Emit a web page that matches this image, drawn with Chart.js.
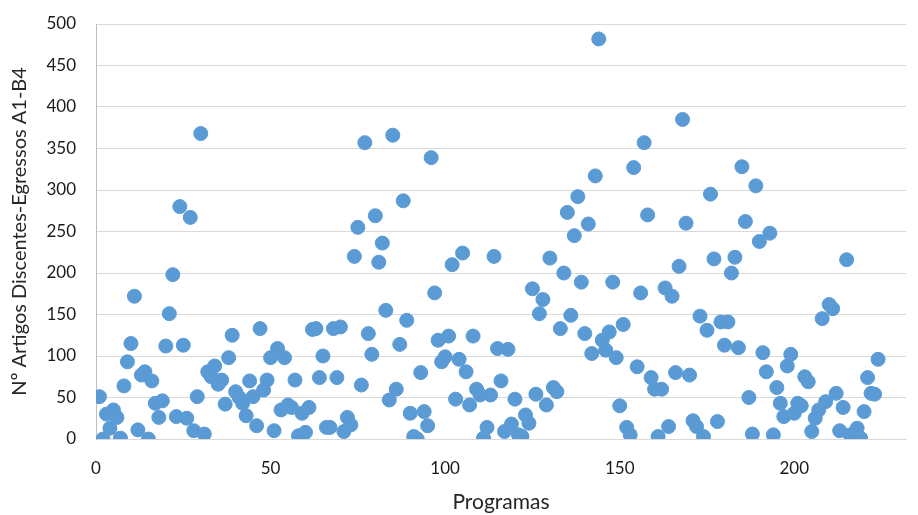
<!DOCTYPE html>
<html>
<head>
<meta charset="utf-8">
<script src="https://cdn.jsdelivr.net/npm/chart.js@4.4.1/dist/chart.umd.min.js"></script>
<style>
  html, body { margin: 0; padding: 0; background: #fff; }
  #wrap { width: 918px; height: 515px; position: relative; }
</style>
</head>
<body>
<div id="wrap"><canvas id="chart"></canvas></div>
<script>
// Nº de artigos por programa (programa = posição na lista, 1..224)
const artigos = [
  51, 0, 30, 13, 35, 26, 1, 64, 93, 115,
  172, 11, 77, 81, 0, 70, 43, 26, 46, 112,
  151, 198, 27, 280, 113, 25, 267, 10, 51, 368,
  6, 81, 75, 88, 66, 71, 42, 98, 125, 57,
  50, 43, 28, 70, 51, 16, 133, 59, 71, 98,
  10, 109, 35, 98, 41, 38, 71, 4, 31, 8,
  38, 132, 133, 74, 100, 14, 14, 133, 74, 135,
  9, 26, 17, 220, 255, 65, 357, 127, 102, 269,
  213, 236, 155, 47, 366, 60, 114, 287, 143, 31,
  3, 0, 80, 33, 16, 339, 176, 119, 93, 99,
  124, 210, 48, 96, 224, 81, 41, 124, 60, 53,
  1, 14, 53, 220, 109, 70, 9, 108, 18, 48,
  5, 3, 29, 19, 181, 54, 151, 168, 41, 218,
  62, 57, 133, 200, 273, 149, 245, 292, 189, 127,
  259, 103, 317, 482, 119, 107, 129, 189, 98, 40,
  138, 14, 5, 327, 87, 176, 357, 270, 74, 60,
  3, 60, 182, 15, 172, 80, 208, 385, 260, 77,
  22, 15, 148, 3, 131, 295, 217, 21, 141, 113,
  141, 200, 219, 110, 328, 262, 50, 6, 305, 238,
  104, 81, 248, 5, 62, 43, 27, 88, 102, 31,
  43, 40, 75, 69, 9, 25, 35, 145, 45, 162,
  157, 55, 10, 38, 216, 5, 1, 13, 1, 33,
  74, 55, 54, 96
];
const programas = artigos.map((v, i) => i + 1);

const xTicks = [0, 50, 100, 150, 200];
const yMax = 500;

const points = programas.map((p, i) => ({ x: p, y: artigos[i] }));

const ctx = document.getElementById('chart').getContext('2d');
new Chart(ctx, {
  type: 'scatter',
  data: {
    datasets: [{
      label: 'Nº Artigos',
      data: points,
      backgroundColor: '#5B9BD5',
      borderColor: '#5B9BD5',
      borderWidth: 1,
      pointRadius: 7,
      pointHoverRadius: 7
    }]
  },
  options: {
    responsive: true,
    maintainAspectRatio: false,
    animation: false,
    layout: { padding: { left: 8, right: 12, top: 24, bottom: 0 } },
    plugins: {
      legend: { display: false },
      tooltip: { enabled: false }
    },
    scales: {
      x: {
        type: 'linear',
        min: 0,
        max: 232,
        afterBuildTicks: (axis) => {
          axis.ticks = xTicks.map(v => ({ value: v }));
        },
        afterFit: (scale) => { scale.height = 76; },
        grid: { display: false },
        border: { display: true, color: '#d9d9d9' },
        ticks: {
          color: '#1a1a1a',
          font: { family: 'Lato', size: 17 },
          maxRotation: 0,
          padding: 11
        },
        title: {
          display: true,
          text: 'Programas',
          color: '#262626',
          font: { family: 'Lato', size: 21 },
          padding: { top: 4, bottom: 0 }
        }
      },
      y: {
        min: 0,
        max: yMax,
        afterFit: (scale) => {
          // largura fixa e sem folga extra acima do 500
          scale.width = 88;
          scale.paddingTop = 10;
          scale.paddingBottom = 10;
        },
        ticks: {
          stepSize: 50,
          color: '#1a1a1a',
          font: { family: 'Lato', size: 17 },
          padding: 20
        },
        grid: { color: '#d9d9d9', lineWidth: 1, drawTicks: false },
        border: { display: true, color: '#bfbfbf' },
        title: {
          display: true,
          text: 'Nº Artigos Discentes-Egressos A1-B4',
          color: '#262626',
          font: { family: 'Lato', size: 20 },
          padding: { top: 0, bottom: 6 }
        }
      }
    }
  }
});
</script>
</body>
</html>
